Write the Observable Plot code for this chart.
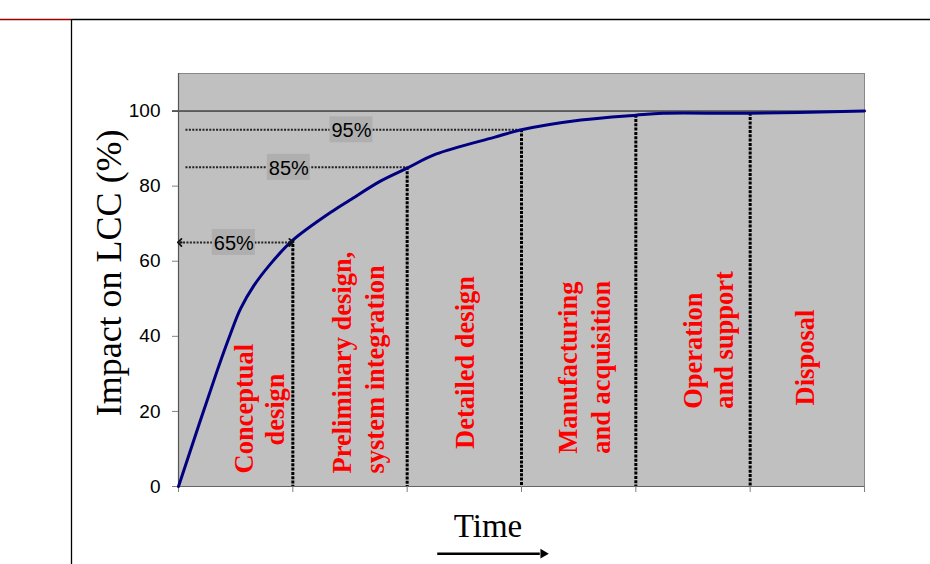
<!DOCTYPE html>
<html>
<head>
<meta charset="utf-8">
<script src="https://cdn.jsdelivr.net/npm/d3@7"></script>
<script src="https://cdn.jsdelivr.net/npm/@observablehq/plot@0.6"></script>
<style>
  html, body { margin: 0; padding: 0; background: #fff; }
  #chart { width: 930px; height: 564px; }
</style>
</head>
<body>
<div id="chart"></div>
<script>
// ---- data ----
const yTicks = [0, 20, 40, 60, 80, 100];
const xTicks = [0, 1, 2, 3, 4, 5, 6];

// cumulative impact on LCC over time (phase units 0..6)
const curveX = [0, 0.34, 0.455, 0.542, 0.659, 0.805, 1.0, 1.36, 1.5, 1.77, 2.0, 2.25, 2.76, 3.0, 3.52, 4.0, 4.24, 5.0, 6.0];
const curveY = [0, 31, 40.7, 47.3, 53.5, 59.3, 65.6, 73.6, 76.3, 81.4, 84.8, 88.5, 93, 95, 97.6, 98.9, 99.4, 99.4, 100];

// phase boundaries and the curve value where each dotted drop-line starts
const boundaryX = [1, 2, 3, 4, 5];
const boundaryY = [65.6, 85, 95, 98.9, 99.4];

// percentage markers
const pctValues = [95, 85, 65];
const pctLabels = ["95%", "85%", "65%"];
const pctLabelX = [1.513, 0.965, 0.484];
const pctLineStart = [0.061, 0.061, 0.01];
const pctLineEnd = [3, 2, 0.985];

// double-headed arrow ends for the 65% span (tip, and a point just inside it)
const arrowTips = [0.01, 0.985];
const arrowFrom = [0.035, 0.96];

// phase names (rotated, red)
const phaseLines = ["Conceptual", "design", "Preliminary design,", "system integration", "Detailed design",
                    "Manufacturing", "and acquisition", "Operation", "and support", "Disposal"];
const phaseX = [0.577, 0.848, 1.434, 1.723, 2.51, 3.411, 3.704, 4.504, 4.78, 5.488];
const phaseY = [3.46, 10.9, 3.46, 3.46, 10.0, 8.7, 8.7, 20.7, 20.7, 21.6];

// axis titles
const yTitle = "Impact on LCC (%)";
const xTitle = "Time";
const yTitlePos = [-0.608, 56.9];
const xTitlePos = [2.707, -10.65];
const timeArrow = [2.263, 3.16, -17.9];   // x1, x2, y
const timeArrowTip = 3.19;

// ---- derived tables ----
const curve = curveX.map((x, i) => ({x, y: curveY[i]}));
const bounds = boundaryX.map((x, i) => ({x, y: boundaryY[i]}));
const pcts = pctValues.map((v, i) => ({v, label: pctLabels[i], lx: pctLabelX[i], x1: pctLineStart[i], x2: pctLineEnd[i]}));
const phases = phaseLines.map((t, i) => ({t, x: phaseX[i], y: phaseY[i]}));
const heads = arrowTips.map((t, i) => ({x1: arrowFrom[i], x2: t, y: pctValues[2]}));

const W = 930, H = 564;
const mL = 178, mR = 66, mT = 73, mB = 78;
const pxX = (W - mL - mR) / 6;     // px per x unit
const pxY = (H - mT - mB) / 110;   // px per y unit
const boxHalfW = 21.5 / pxX, boxHalfH = 13 / pxY;

const sans = "'Liberation Sans', Arial, sans-serif";
const serif = "'Liberation Serif', 'Times New Roman', serif";

const plot = Plot.plot({
  width: W, height: H,
  marginLeft: mL, marginRight: mR, marginTop: mT, marginBottom: mB,
  x: {type: "linear", domain: [0, 6], axis: null},
  y: {type: "linear", domain: [0, 110], axis: null},
  style: {background: "transparent", fontFamily: sans},
  marks: [
    Plot.frame({fill: "#c0c0c0", stroke: "#888888"}),
    Plot.ruleY([100], {stroke: "#000", strokeWidth: 1}),
    // axes
    Plot.ruleX([0], {stroke: "#555", strokeWidth: 1.2}),
    Plot.ruleY([0], {stroke: "#666", strokeWidth: 1.2}),
    Plot.axisY({ticks: yTicks, tickSize: 6, text: null, stroke: "#808080"}),
    Plot.axisY({ticks: [100], tickSize: 6, text: null, stroke: "#000"}),
    Plot.axisY({ticks: yTicks, tickSize: 0, tickPadding: 18, fontSize: 19, fill: "#000", label: null, fontFamily: sans}),
    Plot.axisX({ticks: xTicks, tickSize: 6, text: null, label: null, stroke: "#808080"}),
    // percentage dotted lines
    Plot.link(pcts, {x1: "x1", x2: "x2", y1: "v", y2: "v", stroke: "#222", strokeWidth: 2, strokeDasharray: "2,1.4"}),
    Plot.rect(pcts, {x1: d => d.lx - boxHalfW, x2: d => d.lx + boxHalfW, y1: d => d.v - boxHalfH, y2: d => d.v + boxHalfH, fill: "#afafaf"}),
    Plot.text(pcts, {x: "lx", y: "v", text: "label", fontSize: 20, fill: "#000", fontFamily: sans, dy: 1}),
    // vertical phase boundaries
    Plot.ruleX(bounds, {x: "x", y1: "y", y2: 0, stroke: "#000", strokeWidth: 3, strokeDasharray: "3,1.3"}),
    // curve
    Plot.line(curve, {x: "x", y: "y", stroke: "#000080", strokeWidth: 3, curve: "catmull-rom", strokeLinejoin: "round"}),
    // arrowheads of the 65% span
    Plot.link(heads, {x1: "x1", x2: "x2", y1: "y", y2: "y", stroke: "#111", strokeWidth: 1.8, markerEnd: "arrow"}),
    // phase labels
    Plot.text(phases, {x: "x", y: "y", text: "t", rotate: -90, textAnchor: "start", fill: "#ff0000",
                       fontSize: 26.5, fontWeight: "bold", fontFamily: serif}),
    // titles
    Plot.text([yTitle], {x: yTitlePos[0], y: yTitlePos[1], text: d => d, rotate: -90, fontSize: 36, fill: "#000", fontFamily: serif}),
    Plot.text([xTitle], {x: xTitlePos[0], y: xTitlePos[1], text: d => d, fontSize: 33, fill: "#000", fontFamily: serif}),
    Plot.link([0], {x1: timeArrow[0], x2: timeArrow[1], y1: timeArrow[2], y2: timeArrow[2], stroke: "#000", strokeWidth: 2.6}),
    Plot.dot([0], {x: timeArrowTip, y: timeArrow[2], symbol: "triangle", r: 3.6, fill: "#000", stroke: "none", rotate: 90})
  ]
});

document.getElementById("chart").appendChild(plot);

// slide frame lines
const svg = d3.select(plot);
svg.append("line").attr("x1", 0).attr("x2", 71).attr("y1", 19.5).attr("y2", 19.5).attr("stroke", "#990000").attr("stroke-width", 1.3);
svg.append("line").attr("x1", 71).attr("x2", W).attr("y1", 19.5).attr("y2", 19.5).attr("stroke", "#000").attr("stroke-width", 1.3);
svg.append("line").attr("x1", 71.5).attr("x2", 71.5).attr("y1", 19).attr("y2", H).attr("stroke", "#000").attr("stroke-width", 1.3);
</script>
</body>
</html>
